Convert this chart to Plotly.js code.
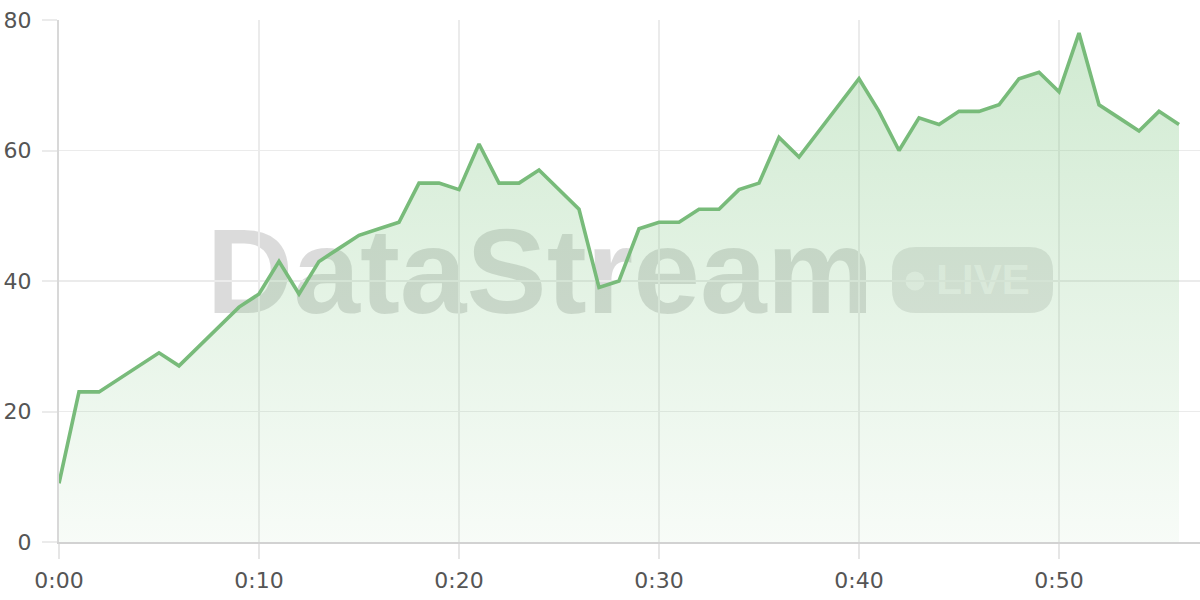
<!DOCTYPE html>
<html>
<head>
<meta charset="utf-8">
<script src="https://cdn.plot.ly/plotly-3.0.1.min.js"></script>
<style>
  html, body { margin: 0; padding: 0; background: #fff; }
  #chart { width: 1200px; height: 600px; }
</style>
</head>
<body>
<div id="chart"></div>
<script>
// minutes since start
const minutes = [
    0, 1, 2, 3, 4, 5, 6, 7, 8, 9,
    10, 11, 12, 13, 14, 15, 16, 17, 18, 19,
    20, 21, 22, 23, 24, 25, 26, 27, 28, 29,
    30, 31, 32, 33, 34, 35, 36, 37, 38, 39,
    40, 41, 42, 43, 44, 45, 46, 47, 48, 49,
    50, 51, 52, 53, 54, 55, 56
];
const values = [
    9, 23, 23, 25, 27, 29, 27, 30, 33, 36,
    38, 43, 38, 43, 45, 47, 48, 49, 55, 55,
    54, 61, 55, 55, 57, 54, 51, 39, 40, 48,
    49, 49, 51, 51, 54, 55, 62, 59, 63, 67,
    71, 66, 60, 65, 64, 66, 66, 67, 71, 72,
    69, 78, 67, 65, 63, 66, 64
];
const xTickVals = [0, 10, 20, 30, 40, 50];
const xTickText = ['0:00', '0:10', '0:20', '0:30', '0:40', '0:50'];
const yTickVals = [0, 20, 40, 60, 80];

const WIDTH = 1200, HEIGHT = 600;
const margin = { l: 59, r: 0, t: 20, b: 58 };
const plotW = WIDTH - margin.l - margin.r;
const plotH = HEIGHT - margin.t - margin.b;

// pixel -> paper helpers for the watermark decoration
const px = (x) => (x - margin.l) / plotW;
const py = (y) => 1 - (y - margin.t) / plotH;

function roundRectPath(x0, y0, x1, y1, r) {
    const rx = r / plotW, ry = r / plotH;
    const a = px(x0), b = px(x1), top = py(y0), bot = py(y1);
    return `M ${a + rx},${top} L ${b - rx},${top} Q ${b},${top} ${b},${top - ry} ` +
        `L ${b},${bot + ry} Q ${b},${bot} ${b - rx},${bot} ` +
        `L ${a + rx},${bot} Q ${a},${bot} ${a},${bot + ry} ` +
        `L ${a},${top - ry} Q ${a},${top} ${a + rx},${top} Z`;
}

const lineColor = 'rgb(120,187,122)';
const tickFont = { family: 'DejaVu Sans', size: 22, color: '#555555' };

const traces = [{
    x: minutes,
    y: values,
    type: 'scatter',
    mode: 'lines',
    line: { color: lineColor, width: 3.6 },
    fill: 'tozeroy',
    fillgradient: {
        type: 'vertical',
        start: 0,
        stop: 80,
        colorscale: [
            [0, 'rgba(129,199,132,0.06)'],
            [1, 'rgba(129,199,132,0.38)'],
        ],
    },
    hoverinfo: 'skip',
    showlegend: false,
}];

const layout = {
    width: WIDTH,
    height: HEIGHT,
    margin: margin,
    showlegend: false,
    paper_bgcolor: '#ffffff',
    plot_bgcolor: '#ffffff',
    xaxis: {
        range: [0, 57.05],
        tickvals: xTickVals,
        ticktext: xTickText,
        showgrid: true,
        gridcolor: '#ebebeb',
        gridwidth: 1.5,
        zeroline: false,
        showline: true,
        linecolor: '#d2d2d2',
        linewidth: 2,
        ticks: 'outside',
        ticklen: 15,
        tickwidth: 2,
        tickcolor: '#e6e6e6',
        tickfont: tickFont,
        ticklabelstandoff: 3,
        fixedrange: true,
    },
    yaxis: {
        range: [0, 80],
        tickvals: yTickVals,
        showgrid: true,
        gridcolor: '#ebebeb',
        gridwidth: 1.5,
        zeroline: false,
        showline: true,
        linecolor: '#d8d8d8',
        linewidth: 2,
        ticks: 'outside',
        ticklen: 15,
        tickwidth: 2,
        tickcolor: '#ebebeb',
        tickfont: tickFont,
        ticklabelstandoff: 6,
        fixedrange: true,
    },
    shapes: [
        // watermark word
        {
            type: 'rect', xref: 'paper', yref: 'paper', layer: 'between',
            x0: px(200), x1: px(880), y0: py(216), y1: py(304),
            line: { width: 0 }, fillcolor: 'rgba(0,0,0,0)',
            label: {
                text: 'DataStream',
                textposition: 'middle center',
                font: { family: 'Liberation Sans', size: 120, weight: 'bold', color: 'rgba(0,0,0,0.14)' },
            },
        },
        // LIVE badge
        {
            type: 'path', xref: 'paper', yref: 'paper', layer: 'between',
            path: roundRectPath(892, 247, 1053, 313, 24),
            line: { width: 0 }, fillcolor: 'rgba(0,0,0,0.1)',
        },
        {
            type: 'circle', xref: 'paper', yref: 'paper', layer: 'between',
            x0: px(905.5), x1: px(924.5), y0: py(290.5), y1: py(271.5),
            line: { width: 0 }, fillcolor: 'rgba(255,255,255,0.55)',
        },
        {
            type: 'rect', xref: 'paper', yref: 'paper', layer: 'between',
            x0: px(934), x1: px(1032), y0: py(255), y1: py(295),
            line: { width: 0 }, fillcolor: 'rgba(0,0,0,0)',
            label: {
                text: 'LIVE',
                textposition: 'middle center',
                font: { family: 'Liberation Sans', size: 42, weight: 'bold', color: 'rgba(255,255,255,0.55)' },
            },
        },
    ],
};

const config = { staticPlot: true, displayModeBar: false };

Plotly.newPlot('chart', traces, layout, config);
</script>
</body>
</html>
